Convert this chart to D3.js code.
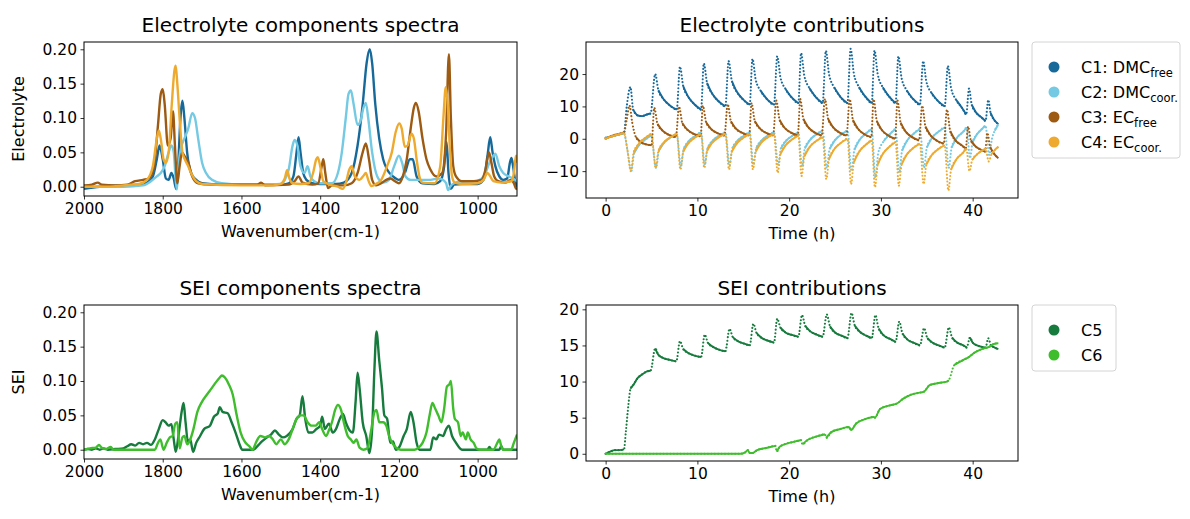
<!DOCTYPE html>
<html>
<head>
<meta charset="utf-8">
<script src="https://cdn.jsdelivr.net/npm/d3@7"></script>
<style>
  body { margin: 0; background: #fff; }
  text { font-family: "DejaVu Sans", sans-serif; fill: #000; }
</style>
</head>
<body>
<svg id="fig" width="1190" height="519"></svg>
<script>
// ---------- Spectra: [wavenumber (cm-1), intensity] ----------
const specC1 = [[2000,-0.003],[1960,0.0],[1900,0.002],[1860,0.003],[1840,0.006],[1825,0.015],[1815,0.04],[1808,0.06],[1800,0.04],[1792,0.012],[1785,0.01],[1778,0.02],[1772,0.012],[1766,-0.003],[1760,0.04],[1755,0.1],[1750,0.125],[1745,0.1],[1738,0.05],[1728,0.02],[1715,0.01],[1700,0.005],[1650,0.003],[1600,0.003],[1550,0.003],[1500,0.003],[1480,0.005],[1468,0.015],[1460,0.05],[1455,0.072],[1450,0.05],[1443,0.02],[1435,0.01],[1420,0.005],[1400,0.004],[1360,0.004],[1340,0.006],[1320,0.02],[1305,0.06],[1292,0.12],[1282,0.18],[1274,0.2],[1268,0.18],[1260,0.12],[1250,0.07],[1240,0.04],[1230,0.025],[1215,0.015],[1200,0.01],[1185,0.02],[1172,0.04],[1165,0.04],[1155,0.015],[1140,0.005],[1110,0.004],[1095,0.008],[1085,0.03],[1079,0.065],[1074,0.02],[1068,-0.003],[1060,0.003],[1040,0.004],[1000,0.004],[985,0.01],[975,0.045],[968,0.072],[962,0.05],[955,0.03],[945,0.015],[935,0.01],[925,0.012],[918,0.035],[914,0.042],[910,0.03],[905,0.01],[900,0.0]];
const specC2 = [[2000,0.0],[1900,0.0],[1850,0.002],[1830,0.008],[1815,0.015],[1805,0.02],[1795,0.03],[1785,0.05],[1778,0.06],[1772,0.05],[1767,0.01],[1764,-0.004],[1760,0.03],[1752,0.06],[1745,0.07],[1735,0.085],[1725,0.107],[1718,0.1],[1710,0.07],[1700,0.035],[1690,0.02],[1675,0.01],[1650,0.005],[1600,0.003],[1550,0.003],[1500,0.004],[1490,0.01],[1480,0.025],[1470,0.06],[1465,0.068],[1458,0.06],[1450,0.03],[1440,0.02],[1432,0.03],[1425,0.015],[1415,0.008],[1400,0.005],[1370,0.005],[1355,0.02],[1345,0.05],[1335,0.1],[1328,0.135],[1322,0.14],[1315,0.12],[1305,0.09],[1298,0.095],[1290,0.115],[1284,0.122],[1278,0.1],[1268,0.05],[1255,0.015],[1240,0.006],[1225,0.01],[1212,0.03],[1200,0.045],[1192,0.035],[1183,0.015],[1170,0.01],[1150,0.01],[1120,0.01],[1100,0.012],[1088,0.01],[1080,0.005],[1075,-0.005],[1070,0.0],[1060,0.005],[1040,0.008],[1010,0.008],[995,0.01],[980,0.02],[970,0.035],[960,0.045],[955,0.048],[945,0.03],[935,0.02],[920,0.015],[905,0.01],[900,0.008]];
const specC3 = [[2000,0.002],[1980,0.003],[1965,0.006],[1955,0.003],[1920,0.002],[1890,0.003],[1870,0.008],[1850,0.01],[1835,0.012],[1822,0.03],[1812,0.09],[1805,0.135],[1800,0.142],[1795,0.12],[1787,0.06],[1780,0.07],[1774,0.11],[1769,0.06],[1763,0.005],[1757,0.03],[1751,0.05],[1745,0.045],[1735,0.035],[1725,0.015],[1710,0.005],[1680,0.003],[1600,0.003],[1560,0.003],[1550,0.006],[1540,0.002],[1480,0.003],[1465,0.008],[1455,0.015],[1445,0.006],[1420,0.003],[1405,0.005],[1396,0.03],[1392,0.04],[1387,0.02],[1380,-0.002],[1370,0.002],[1340,0.002],[1320,0.005],[1305,0.02],[1292,0.05],[1284,0.063],[1276,0.04],[1268,0.01],[1258,0.002],[1245,0.005],[1232,0.01],[1222,0.012],[1210,0.008],[1200,0.005],[1190,0.015],[1180,0.04],[1170,0.085],[1162,0.115],[1157,0.122],[1150,0.11],[1140,0.07],[1130,0.04],[1120,0.025],[1105,0.015],[1090,0.02],[1080,0.08],[1073,0.193],[1068,0.1],[1062,0.03],[1055,0.015],[1040,0.008],[1010,0.008],[990,0.01],[980,0.025],[971,0.05],[965,0.035],[958,0.015],[948,0.008],[930,0.006],[915,0.01],[908,0.005],[903,-0.002],[900,-0.004]];
const specC4 = [[2000,0.0],[1950,0.0],[1900,0.002],[1860,0.004],[1840,0.01],[1825,0.03],[1815,0.07],[1810,0.082],[1805,0.07],[1798,0.04],[1792,0.035],[1785,0.05],[1777,0.12],[1770,0.17],[1767,0.176],[1763,0.15],[1756,0.09],[1750,0.05],[1744,0.04],[1737,0.032],[1728,0.02],[1715,0.008],[1700,0.004],[1600,0.002],[1520,0.002],[1500,0.004],[1490,0.012],[1484,0.024],[1478,0.012],[1470,0.005],[1450,0.004],[1430,0.005],[1418,0.02],[1410,0.04],[1406,0.043],[1400,0.03],[1392,0.008],[1380,0.004],[1355,0.0],[1343,-0.003],[1335,0.005],[1326,0.025],[1320,0.03],[1312,0.015],[1300,0.01],[1290,0.016],[1284,0.02],[1278,0.01],[1270,0.001],[1258,0.004],[1245,0.01],[1230,0.03],[1218,0.05],[1208,0.08],[1199,0.092],[1193,0.085],[1185,0.058],[1178,0.06],[1168,0.077],[1162,0.07],[1155,0.04],[1148,0.015],[1140,0.006],[1110,0.005],[1095,0.03],[1087,0.1],[1081,0.145],[1076,0.12],[1070,0.05],[1065,0.015],[1058,0.006],[1040,0.004],[1000,0.005],[985,0.01],[975,0.02],[968,0.015],[960,0.008],[940,0.006],[915,0.008],[908,0.02],[904,0.04],[902,0.045],[900,0.035]];
const specC5 = [[2000,0.0],[1990,0.001],[1980,0.0],[1970,0.002],[1960,0.0],[1950,0.002],[1940,0.0],[1920,0.001],[1900,0.002],[1890,0.005],[1880,0.008],[1870,0.006],[1860,0.01],[1850,0.008],[1840,0.01],[1830,0.007],[1820,0.015],[1810,0.03],[1800,0.043],[1793,0.04],[1785,0.035],[1778,0.037],[1772,0.015],[1767,-0.003],[1760,0.02],[1752,0.055],[1747,0.068],[1742,0.04],[1736,0.012],[1730,0.015],[1723,-0.003],[1715,0.01],[1705,0.02],[1695,0.03],[1680,0.035],[1670,0.048],[1660,0.053],[1655,0.062],[1648,0.055],[1635,0.053],[1625,0.04],[1615,0.025],[1605,0.008],[1598,0.0],[1570,0.0],[1560,0.005],[1548,0.012],[1535,0.018],[1525,0.022],[1515,0.028],[1505,0.022],[1495,0.018],[1485,0.02],[1470,0.03],[1460,0.045],[1452,0.05],[1445,0.078],[1438,0.045],[1430,0.025],[1420,0.025],[1410,0.03],[1400,0.035],[1395,0.048],[1388,0.03],[1378,0.038],[1368,0.025],[1360,0.03],[1350,0.045],[1342,0.052],[1335,0.04],[1325,0.028],[1317,0.025],[1310,0.07],[1305,0.112],[1300,0.09],[1292,0.04],[1283,0.02],[1275,-0.005],[1268,0.03],[1262,0.12],[1257,0.172],[1250,0.13],[1243,0.09],[1237,0.05],[1230,0.045],[1222,0.01],[1215,0.012],[1208,0.0],[1198,0.005],[1188,0.02],[1180,0.03],[1170,0.055],[1163,0.04],[1155,0.01],[1148,0.0],[1120,0.0],[1113,0.018],[1105,0.015],[1098,0.022],[1088,0.02],[1080,0.03],[1073,0.035],[1065,0.02],[1055,0.01],[1045,0.002],[1040,0.0],[975,0.0],[970,0.004],[965,0.0],[945,0.0],[940,0.005],[935,0.0],[900,0.0]];
const specC6 = [[2000,0.0],[1985,0.002],[1970,0.003],[1962,0.007],[1955,0.003],[1945,0.001],[1932,0.004],[1925,0.0],[1820,0.0],[1812,0.01],[1806,0.015],[1798,0.0],[1790,0.01],[1782,0.018],[1775,0.02],[1768,0.038],[1763,0.04],[1757,0.002],[1750,0.018],[1745,0.02],[1738,0.008],[1730,0.015],[1722,0.03],[1712,0.055],[1700,0.07],[1688,0.08],[1675,0.09],[1665,0.098],[1655,0.105],[1650,0.108],[1642,0.105],[1632,0.095],[1622,0.08],[1612,0.05],[1602,0.025],[1592,0.012],[1580,0.005],[1572,0.0],[1562,0.012],[1552,0.02],[1540,0.018],[1530,0.02],[1520,0.015],[1512,0.008],[1500,0.015],[1490,0.008],[1480,0.015],[1470,0.03],[1460,0.045],[1450,0.05],[1442,0.05],[1432,0.04],[1422,0.035],[1412,0.035],[1402,0.04],[1395,0.03],[1385,0.02],[1378,0.028],[1370,0.04],[1362,0.058],[1355,0.065],[1347,0.058],[1340,0.04],[1330,0.02],[1322,0.015],[1315,0.01],[1308,0.015],[1300,0.003],[1290,0.0],[1280,0.002],[1270,0.03],[1262,0.055],[1257,0.058],[1250,0.04],[1240,0.04],[1232,0.035],[1225,0.02],[1215,0.008],[1205,0.002],[1195,0.0],[1160,0.0],[1150,0.003],[1140,0.01],[1130,0.025],[1122,0.05],[1115,0.068],[1108,0.06],[1100,0.05],[1092,0.04],[1085,0.06],[1078,0.092],[1072,0.095],[1068,0.1],[1062,0.06],[1058,0.045],[1050,0.04],[1043,0.02],[1038,0.025],[1030,0.015],[1025,0.025],[1018,0.015],[1010,0.01],[1003,0.002],[995,0.0],[960,0.0],[950,0.01],[945,0.015],[940,0.005],[935,0.0],[915,0.0],[908,0.01],[900,0.022]];

// ---------- Contributions: [time (h), score] ----------
const contC1 = [[0,0.3],[1,1.0],[2.0,1.8],[2.3,10],[2.7,16],[3.0,9],[3.5,7.2],[4.0,7],[4.5,7.5],[4.9,7.8],[5.4,20],[5.75,15],[6.3,12.3],[7.0,10.3],[7.75,9],[8.1,22.3],[8.45,16.3],[9.0,13],[9.7,10.6],[10.4,9],[10.7,23.3],[11.05,17.3],[11.6,14],[12.3,11.6],[13.05,10],[13.4,24],[13.75,17.9],[14.3,14.5],[15.0,12.1],[15.7,10.5],[16.0,24.7],[16.35,18.3],[16.9,14.8],[17.6,12.2],[18.35,10.5],[18.7,25.5],[19.05,19],[19.6,15.4],[20.3,12.7],[21.0,11],[21.3,26.5],[21.65,19.5],[22.2,15.7],[22.9,12.9],[23.65,11],[24.0,27.2],[24.35,19.9],[24.9,15.9],[25.6,12.9],[26.35,11],[26.7,27.8],[27.05,20.2],[27.6,16],[28.3,13],[29.0,11],[29.3,27.3],[29.65,20],[30.2,15.9],[30.9,13],[31.6,11],[31.9,25.5],[32.25,18.8],[32.8,15],[33.5,12.3],[34.25,10.5],[34.6,24],[34.95,17.7],[35.5,14.2],[36.2,11.7],[36.95,10],[37.3,22.5],[37.65,15.7],[38.2,12],[38.9,9.3],[39.3,7.5],[39.6,15.5],[39.9,10.5],[40.4,8],[41.0,6.5],[41.4,5.5],[41.7,12],[41.95,8],[42.3,6],[42.8,4.5]];
const contC2 = [[0,0.3],[1,1.0],[2.0,1.6],[2.4,-4],[2.8,-10],[3.1,-4.5],[3.7,-1.75],[4.4,-0.1],[4.95,1],[5.5,-9],[5.8,-3.75],[6.4,-1.1],[7.1,0.45],[7.75,1.5],[8.2,-8.5],[8.5,-3.25],[9.1,-0.6],[9.8,0.95],[10.4,2],[10.8,-8],[11.1,-3],[11.7,-0.5],[12.4,1],[13.05,2],[13.5,-8],[13.8,-3],[14.4,-0.5],[15.1,1],[15.7,2],[16.1,-8],[16.4,-3],[17.0,-0.5],[17.7,1],[18.35,2],[18.8,-8],[19.1,-3],[19.7,-0.5],[20.4,1],[21.0,2],[21.4,-8.5],[21.7,-3],[22.3,-0.25],[23.0,1.4],[23.65,2.5],[24.1,-9],[24.4,-3.25],[25.0,-0.4],[25.7,1.35],[26.35,2.5],[26.8,-10],[27.1,-3.5],[27.7,-0.25],[28.4,1.7],[29.0,3],[29.4,-12],[29.7,-4.5],[30.3,-0.75],[31.0,1.5],[31.6,3],[32.0,-10.5],[32.3,-3.75],[32.9,-0.4],[33.6,1.65],[34.25,3],[34.7,-9],[35.0,-2.75],[35.6,0.4],[36.3,2.25],[36.95,3.5],[37.4,-9],[37.7,-2.75],[38.3,0.4],[39.0,2.25],[39.35,3.5],[39.7,-6],[40.0,-1],[40.5,1.5],[41.0,3],[41.4,4],[41.8,-5],[42.1,0],[42.4,2.5],[42.8,4.5]];
const contC3 = [[0,0],[0.5,0.7],[1,1.2],[2.0,2.0],[2.3,6],[2.6,10.3],[2.9,5],[3.3,0.5],[3.8,-1],[4.5,-1.8],[5.0,-2],[5.3,9.6],[5.65,4.6],[6.2,2.5],[6.9,1.2],[7.65,0.5],[8.0,9.9],[8.35,4.9],[8.9,2.8],[9.6,1.5],[10.35,0.8],[10.6,10.2],[10.95,5.1],[11.5,3],[12.2,1.7],[12.95,1],[13.3,10.7],[13.65,5.4],[14.2,3.1],[14.9,1.8],[15.65,1],[15.9,11],[16.25,5.5],[16.8,3.2],[17.5,1.8],[18.25,1],[18.6,11.8],[18.95,5.9],[19.5,3.4],[20.2,1.9],[20.95,1],[21.2,12.3],[21.55,6.1],[22.1,3.5],[22.8,1.9],[23.55,1],[23.9,12.3],[24.25,6.1],[24.8,3.5],[25.5,1.9],[26.25,1],[26.6,12.2],[26.95,5.8],[27.5,3.1],[28.2,1.4],[28.95,0.5],[29.2,12.2],[29.55,5.5],[30.1,2.7],[30.8,1],[31.55,0],[31.8,11.8],[32.15,5],[32.7,2.2],[33.4,0.5],[34.15,-0.5],[34.5,10.2],[34.85,3.8],[35.4,1.1],[36.1,-0.6],[36.85,-1.5],[37.2,9],[37.55,2.4],[38.1,-0.4],[38.8,-2],[39.25,-3],[39.5,3.8],[39.8,-0.5],[40.3,-2.3],[40.9,-3.4],[41.35,-4],[41.6,1.8],[41.9,-2.5],[42.3,-4.5],[42.8,-6]];
const contC4 = [[0,0],[0.5,0.6],[1,1.0],[2.0,1.8],[2.35,-3],[2.75,-10],[3.05,-4.25],[3.65,-1.4],[4.35,0.35],[5.0,1.5],[5.45,-9],[5.75,-3.75],[6.35,-1.1],[7.05,0.45],[7.75,1.5],[8.15,-9.5],[8.45,-4],[9.05,-1.25],[9.75,0.4],[10.4,1.5],[10.75,-9],[11.05,-3.75],[11.65,-1.1],[12.35,0.45],[13.05,1.5],[13.45,-9.5],[13.75,-4],[14.35,-1.25],[15.05,0.4],[15.7,1.5],[16.05,-9.5],[16.35,-4],[16.95,-1.25],[17.65,0.4],[18.35,1.5],[18.75,-10.5],[19.05,-4.75],[19.65,-1.9],[20.35,-0.15],[21.0,1],[21.35,-11.5],[21.65,-5.5],[22.25,-2.5],[22.95,-0.7],[23.65,0.5],[24.05,-12.5],[24.35,-6.25],[24.95,-3.1],[25.65,-1.25],[26.35,0],[26.75,-14],[27.05,-7.25],[27.65,-3.9],[28.35,-1.85],[29.0,-0.5],[29.35,-15],[29.65,-8],[30.25,-4.5],[30.95,-2.4],[31.6,-1],[31.95,-14.5],[32.25,-8],[32.85,-4.75],[33.55,-2.8],[34.25,-1.5],[34.65,-14],[34.95,-8],[35.55,-5],[36.25,-3.2],[36.95,-2],[37.35,-16],[37.65,-9.5],[38.25,-6.25],[38.95,-4.3],[39.3,-3],[39.65,-10],[39.95,-6.5],[40.5,-4.75],[41.0,-3.7],[41.4,-3],[41.75,-7],[42.05,-4.75],[42.4,-3.5],[42.8,-2.5]];
const contC5 = [[0,0],[0.5,0.3],[1,0.5],[1.5,0.5],[2.0,0.6],[2.2,3],[2.5,7],[2.7,9],[3.0,9.5],[3.5,10.5],[4.0,11],[4.5,11.4],[4.9,11.5],[5.4,14.6],[5.75,13.7],[6.3,13.25],[7.0,13],[7.7,12.8],[8.1,15.6],[8.45,14.5],[9.0,13.95],[9.7,13.6],[10.4,13.4],[10.8,16.5],[11.15,15.35],[11.7,14.8],[12.4,14.4],[13.05,14.2],[13.5,17.3],[13.85,16.15],[14.4,15.6],[15.1,15.25],[15.7,15],[16.1,18],[16.45,16.7],[17.0,16.05],[17.7,15.65],[18.35,15.4],[18.7,18.7],[19.05,17.45],[19.6,16.8],[20.3,16.45],[21.0,16.2],[21.4,19.2],[21.75,17.7],[22.3,16.95],[23.0,16.5],[23.65,16.2],[24.1,19.3],[24.45,17.65],[25.0,16.8],[25.7,16.35],[26.35,16],[26.8,19.5],[27.15,17.75],[27.7,16.9],[28.4,16.35],[29.0,16],[29.4,19.2],[29.75,17.35],[30.3,16.4],[31.0,15.9],[31.6,15.5],[32.0,18.3],[32.35,16.65],[32.9,15.8],[33.6,15.35],[34.25,15],[34.7,17.4],[35.05,16.05],[35.6,15.4],[36.3,15],[36.95,14.7],[37.4,17.5],[37.75,16.1],[38.3,15.4],[39.0,15],[39.35,14.7],[39.7,16.1],[40.0,15.4],[40.5,15],[41.0,14.8],[41.4,14.7],[41.7,16],[42.0,15],[42.4,14.7],[42.8,14.5]];
const contC6 = [[0,0],[14.7,0],[15.2,0.2],[15.5,0.5],[15.7,0.1],[16.0,0.1],[16.5,0.5],[17.5,0.8],[18.5,1.1],[18.65,0.3],[19.0,1.0],[20.0,1.5],[21.0,1.8],[21.3,1.9],[21.45,1.3],[22.0,1.9],[23.0,2.4],[23.9,2.7],[24.05,2.2],[24.6,3.0],[25.5,3.4],[26.5,3.7],[26.75,3.3],[27.3,4.2],[28.3,4.8],[29.2,5.1],[29.35,5.0],[29.9,6.2],[31.0,6.7],[31.8,7.0],[32.4,7.6],[33.3,8.2],[34.4,8.5],[34.7,8.6],[35.3,9.5],[36.3,9.8],[37.2,10.0],[37.4,10.2],[38.0,12.3],[39.0,13.0],[39.6,13.4],[40.2,14.0],[41.0,14.5],[41.8,14.8],[42.3,15.2],[42.8,15.3]];

// ---------- Ticks and labels ----------
const wnTicks = [2000, 1800, 1600, 1400, 1200, 1000];
const specTicks = [0, 0.05, 0.10, 0.15, 0.20];
const timeTicks = [0, 10, 20, 30, 40];
const elecTicks = [-10, 0, 10, 20];
const seiTicks = [0, 5, 10, 15, 20];

const colors = {
  c1: "#17699a", c2: "#74c9e3", c3: "#9c5a12", c4: "#eeaa2f",
  c5: "#167b3c", c6: "#3fbd2d"
};

const svg = d3.select("#fig");
svg.append("rect").attr("width", 1190).attr("height", 519).attr("fill", "#fff");

let clipCount = 0;

// Spectra are continuous lines.
function drawSpectrum(plot, s, x, y) {
  const line = d3.line().x(d => x(d[0])).y(d => y(d[1])).curve(d3.curveMonotoneX);
  plot.append("path").datum(s.data)
    .attr("d", line).attr("fill", "none")
    .attr("stroke", s.color).attr("stroke-width", 2.4).attr("stroke-linejoin", "round");
}

// Contributions are sampled points: steep stretches show as separate dots,
// slow stretches merge into a continuous trace.
function drawScores(plot, s, x, y) {
  const line = d3.line().x(d => x(d[0])).y(d => y(d[1])).curve(d3.curveMonotoneX);
  plot.append("path").datum(s.data)
    .attr("d", line).attr("fill", "none")
    .attr("stroke", s.color).attr("stroke-width", 2.1)
    .attr("stroke-linecap", "round").attr("stroke-dasharray", "0.01 3.4");
  const runs = [];
  let cur = [s.data[0]];
  for (let i = 1; i < s.data.length; i++) {
    const a = s.data[i - 1], b = s.data[i];
    const dx = Math.abs(x(b[0]) - x(a[0]));
    const dy = Math.abs(y(b[1]) - y(a[1]));
    if (dy <= 2.2 * dx) {
      cur.push(b);
    } else {
      if (cur.length > 1) runs.push(cur);
      cur = [b];
    }
  }
  if (cur.length > 1) runs.push(cur);
  runs.forEach(r => {
    plot.append("path").datum(r)
      .attr("d", line).attr("fill", "none")
      .attr("stroke", s.color).attr("stroke-width", 1.9).attr("stroke-linejoin", "round");
  });
}

function panel(cfg) {
  const g = svg.append("g");
  const x = d3.scaleLinear().domain(cfg.xDomain).range([cfg.left, cfg.right]);
  const y = d3.scaleLinear().domain(cfg.yDomain).range([cfg.bottom, cfg.top]);
  const id = "clip" + (clipCount++);
  svg.append("clipPath").attr("id", id).append("rect")
    .attr("x", cfg.left).attr("y", cfg.top)
    .attr("width", cfg.right - cfg.left).attr("height", cfg.bottom - cfg.top);
  const plot = g.append("g").attr("clip-path", `url(#${id})`);
  cfg.series.forEach(s => cfg.draw(plot, s, x, y));

  const xa = g.append("g").attr("transform", `translate(0,${cfg.bottom})`)
    .call(d3.axisBottom(x).tickValues(cfg.xTicks).tickFormat(cfg.xFmt).tickSize(3.5).tickPadding(3.5));
  const ya = g.append("g").attr("transform", `translate(${cfg.left},0)`)
    .call(d3.axisLeft(y).tickValues(cfg.yTicks).tickFormat(cfg.yFmt).tickSize(3.5).tickPadding(3.5));
  [xa, ya].forEach(a => {
    a.select(".domain").remove();
    a.selectAll(".tick line").attr("stroke", "#000").attr("stroke-width", 0.8);
    a.selectAll(".tick text").attr("font-size", 15.5).attr("font-family", "DejaVu Sans").attr("fill", "#000");
  });

  g.append("rect").attr("x", cfg.left).attr("y", cfg.top)
    .attr("width", cfg.right - cfg.left).attr("height", cfg.bottom - cfg.top)
    .attr("fill", "none").attr("stroke", "#000").attr("stroke-width", 1);

  g.append("text").attr("x", (cfg.left + cfg.right) / 2).attr("y", cfg.top - 10)
    .attr("text-anchor", "middle").attr("font-size", 20).text(cfg.title);
  g.append("text").attr("x", (cfg.left + cfg.right) / 2).attr("y", cfg.bottom + 41)
    .attr("text-anchor", "middle").attr("font-size", 16).text(cfg.xLabel);
  if (cfg.yLabel) {
    const cy = (cfg.top + cfg.bottom) / 2;
    g.append("text").attr("transform", `translate(24,${cy}) rotate(-90)`)
      .attr("text-anchor", "middle").attr("font-size", 16).text(cfg.yLabel);
  }
}

const fmt2 = d3.format(".2f");
const fmtInt = d3.format("d");

panel({
  left: 84, right: 517, top: 42, bottom: 196,
  xDomain: [2000, 900], yDomain: [-0.0135, 0.2106],
  xTicks: wnTicks, yTicks: specTicks, xFmt: fmtInt, yFmt: fmt2, draw: drawSpectrum,
  title: "Electrolyte components spectra", xLabel: "Wavenumber(cm-1)", yLabel: "Electrolyte",
  series: [
    { data: specC1, color: colors.c1 }, { data: specC2, color: colors.c2 },
    { data: specC3, color: colors.c3 }, { data: specC4, color: colors.c4 }
  ]
});
panel({
  left: 586, right: 1018, top: 42, bottom: 198,
  xDomain: [-2.14, 44.94], yDomain: [-18.3, 29.9],
  xTicks: timeTicks, yTicks: elecTicks, xFmt: fmtInt, yFmt: fmtInt, draw: drawScores,
  title: "Electrolyte contributions", xLabel: "Time (h)",
  series: [
    { data: contC1, color: colors.c1 }, { data: contC2, color: colors.c2 },
    { data: contC3, color: colors.c3 }, { data: contC4, color: colors.c4 }
  ]
});
panel({
  left: 84, right: 517, top: 305, bottom: 459,
  xDomain: [2000, 900], yDomain: [-0.0135, 0.2106],
  xTicks: wnTicks, yTicks: specTicks, xFmt: fmtInt, yFmt: fmt2, draw: drawSpectrum,
  title: "SEI components spectra", xLabel: "Wavenumber(cm-1)", yLabel: "SEI",
  series: [ { data: specC5, color: colors.c5 }, { data: specC6, color: colors.c6 } ]
});
panel({
  left: 586, right: 1018, top: 305, bottom: 461,
  xDomain: [-2.14, 44.94], yDomain: [-1.0, 20.6],
  xTicks: timeTicks, yTicks: seiTicks, xFmt: fmtInt, yFmt: fmtInt, draw: drawScores,
  title: "SEI contributions", xLabel: "Time (h)",
  series: [ { data: contC5, color: colors.c5 }, { data: contC6, color: colors.c6 } ]
});

// ---------- Legends ----------
function legend(top, width, items) {
  const g = svg.append("g");
  const rowH = 25, left = 1032;
  const height = 16 + rowH * items.length;
  g.append("rect").attr("x", left).attr("y", top).attr("width", width).attr("height", height)
    .attr("rx", 3).attr("fill", "#fff").attr("stroke", "#d4d4d4").attr("stroke-width", 1);
  items.forEach((it, i) => {
    const cy = top + 25 + i * rowH;
    g.append("circle").attr("cx", 1054).attr("cy", cy).attr("r", 5.5).attr("fill", it.color);
    const t = g.append("text").attr("x", 1081).attr("y", cy + 6).attr("font-size", 16);
    t.append("tspan").text(it.label);
    if (it.sub) {
      t.append("tspan").attr("dy", 4).attr("font-size", 11.5).text(it.sub);
    }
  });
}
legend(42, 148, [
  { label: "C1: DMC", sub: "free", color: colors.c1 },
  { label: "C2: DMC", sub: "coor.", color: colors.c2 },
  { label: "C3: EC", sub: "free", color: colors.c3 },
  { label: "C4: EC", sub: "coor.", color: colors.c4 }
]);
legend(305, 84, [
  { label: "C5", color: colors.c5 },
  { label: "C6", color: colors.c6 }
]);
</script>
</body>
</html>
